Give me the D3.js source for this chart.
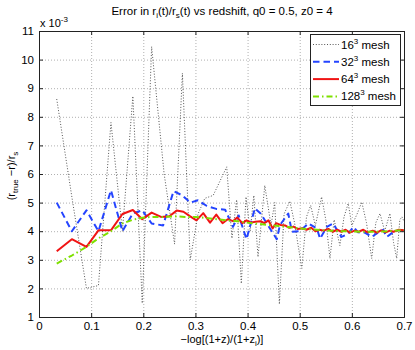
<!DOCTYPE html>
<html lang="en">
<head>
<meta charset="UTF-8">
<script src="https://d3js.org/d3.v7.min.js"></script>
<title>Error in ri/rs vs redshift</title>
<style>
	body { margin: 0; background: #fff; }
	svg { font-family: "Liberation Sans", Arial, sans-serif; }
	.grid line { stroke: #b0b0b0; stroke-dasharray: 1,2; }
</style>
</head>
<body>
<svg width="415" height="350"></svg>
<script>
// ticks
const xTicks = [0, 0.1, 0.2, 0.3, 0.4, 0.5, 0.6, 0.7];
const yTicks = [1, 2, 3, 4, 5, 6, 7, 8, 9, 10, 11];   // units of 1e-3

// 16^3 mesh (dotted)
const x16 = [0.034, 0.063, 0.091, 0.114, 0.138, 0.160, 0.180, 0.198, 0.216, 0.240, 0.260, 0.275, 0.290, 0.305, 0.318, 0.334, 0.347, 0.360, 0.370, 0.379, 0.388, 0.397, 0.405, 0.412, 0.420, 0.433, 0.445, 0.452, 0.461, 0.470, 0.481, 0.490, 0.504, 0.513, 0.521, 0.530, 0.542, 0.550, 0.558, 0.566, 0.577, 0.585, 0.593, 0.600, 0.610, 0.619, 0.628, 0.638, 0.646, 0.654, 0.663, 0.673, 0.680, 0.686, 0.692, 0.696, 0.700];
const y16 = [8.62, 5.20, 2.00, 2.10, 7.80, 4.00, 8.72, 1.48, 10.45, 6.00, 3.55, 9.52, 3.00, 4.60, 5.15, 5.25, 5.75, 6.25, 3.75, 5.10, 2.17, 5.20, 4.00, 5.25, 3.10, 5.60, 4.20, 5.00, 1.45, 4.60, 5.05, 4.30, 2.70, 4.50, 4.90, 4.20, 5.20, 4.40, 3.05, 4.40, 3.50, 4.50, 4.97, 4.20, 4.60, 5.02, 4.30, 3.05, 4.30, 4.62, 4.00, 4.62, 3.60, 3.05, 4.40, 4.50, 4.35];

// 32^3 mesh (dashed)
const x32 = [0.034, 0.063, 0.091, 0.114, 0.138, 0.160, 0.180, 0.198, 0.216, 0.238, 0.258, 0.275, 0.290, 0.305, 0.322, 0.340, 0.357, 0.372, 0.383, 0.398, 0.414, 0.425, 0.437, 0.456, 0.462, 0.478, 0.485, 0.500, 0.517, 0.533, 0.539, 0.552, 0.564, 0.580, 0.592, 0.603, 0.612, 0.625, 0.638, 0.650, 0.660, 0.667, 0.678, 0.689, 0.700];
const y32 = [5.00, 4.00, 4.73, 4.00, 5.43, 4.00, 4.62, 4.73, 4.27, 4.20, 5.40, 5.25, 5.00, 5.08, 4.88, 4.78, 4.75, 4.15, 4.55, 3.72, 4.80, 4.62, 4.27, 3.72, 4.21, 4.62, 3.98, 4.00, 4.27, 4.09, 3.74, 4.15, 4.27, 3.80, 3.90, 4.15, 3.96, 3.95, 3.80, 3.95, 4.05, 3.80, 3.95, 4.03, 4.05];

// 64^3 mesh (solid)
const x64 = [0.034, 0.063, 0.091, 0.114, 0.138, 0.160, 0.180, 0.198, 0.216, 0.234, 0.250, 0.264, 0.277, 0.290, 0.302, 0.315, 0.328, 0.340, 0.352, 0.362, 0.372, 0.380, 0.390, 0.398, 0.406, 0.415, 0.425, 0.432, 0.440, 0.448, 0.455, 0.463, 0.472, 0.480, 0.488, 0.496, 0.505, 0.513, 0.522, 0.530, 0.538, 0.546, 0.555, 0.563, 0.572, 0.580, 0.588, 0.596, 0.605, 0.613, 0.622, 0.630, 0.640, 0.648, 0.656, 0.665, 0.673, 0.680, 0.690, 0.700];
const y64 = [3.30, 3.72, 3.45, 4.03, 4.03, 4.60, 4.74, 4.42, 4.65, 4.50, 4.52, 4.72, 4.68, 4.52, 4.38, 4.63, 4.30, 4.58, 4.28, 4.42, 4.35, 4.48, 4.28, 4.38, 4.30, 4.33, 4.35, 4.28, 4.38, 4.10, 4.28, 4.22, 4.20, 4.12, 4.16, 4.08, 4.10, 4.05, 4.12, 4.00, 4.05, 4.02, 4.08, 3.98, 4.05, 3.98, 4.05, 3.95, 4.02, 3.98, 4.05, 3.96, 4.02, 3.95, 4.03, 3.96, 4.02, 3.98, 4.05, 4.03];

// 128^3 mesh (dash-dot)
const x128 = [0.034, 0.063, 0.091, 0.114, 0.138, 0.160, 0.180, 0.198, 0.216, 0.238, 0.260, 0.280, 0.300, 0.320, 0.340, 0.360, 0.380, 0.400, 0.420, 0.440, 0.460, 0.480, 0.500, 0.520, 0.540, 0.560, 0.580, 0.600, 0.620, 0.640, 0.660, 0.680, 0.700];
const y128 = [2.87, 3.15, 3.45, 3.75, 4.00, 4.27, 4.40, 4.47, 4.50, 4.50, 4.52, 4.50, 4.50, 4.46, 4.42, 4.38, 4.35, 4.30, 4.26, 4.22, 4.18, 4.14, 4.10, 4.07, 4.04, 4.02, 4.00, 3.99, 3.98, 3.98, 3.99, 4.01, 4.04];

const seriesNames = ['16', '32', '64', '128'];

const series = [
	{ name: seriesNames[0], xs: x16, ys: y16, color: '#555', width: 1, dash: '1,1.8' },
	{ name: seriesNames[1], xs: x32, ys: y32, color: '#2444ff', width: 2, dash: '6.5,4' },
	{ name: seriesNames[2], xs: x64, ys: y64, color: '#f01414', width: 2, dash: null },
	{ name: seriesNames[3], xs: x128, ys: y128, color: '#7ee000', width: 2, dash: '6,3,1.5,3' }
];

const mLeft = 39, mRight = 404, mTop = 31, mBottom = 317;

const svg = d3.select('svg');
const x = d3.scaleLinear().domain([0, 0.7]).range([mLeft, mRight]);
const y = d3.scaleLinear().domain([1, 11]).range([mBottom, mTop]);

// grid
svg.append('g').attr('class', 'grid')
	.attr('transform', `translate(0,${mBottom})`)
	.call(d3.axisBottom(x).tickValues(xTicks.slice(1, -1)).tickSize(-(mBottom - mTop)).tickFormat(''))
	.call(g => g.select('.domain').remove());
svg.append('g').attr('class', 'grid')
	.attr('transform', `translate(${mLeft},0)`)
	.call(d3.axisLeft(y).tickValues(yTicks.slice(1, -1)).tickSize(-(mRight - mLeft)).tickFormat(''))
	.call(g => g.select('.domain').remove());

// lines
svg.append('clipPath').attr('id', 'clip')
	.append('rect').attr('x', mLeft).attr('y', mTop).attr('width', mRight - mLeft).attr('height', mBottom - mTop);

const line = d3.line().x(d => x(d[0])).y(d => y(d[1]));
const plot = svg.append('g').attr('clip-path', 'url(#clip)');
series.forEach(s => {
	plot.append('path')
		.datum(s.xs.map((v, i) => [v, s.ys[i]]))
		.attr('d', line)
		.attr('fill', 'none')
		.attr('stroke', s.color)
		.attr('stroke-width', s.width)
		.attr('stroke-linejoin', 'round')
		.attr('stroke-dasharray', s.dash);
});

// axes, ticks pointing inward
const fmt = d => String(d);
const axB = svg.append('g').attr('transform', `translate(0,${mBottom})`)
	.call(d3.axisBottom(x).tickValues(xTicks).tickSize(-4).tickPadding(5).tickFormat(fmt));
const axL = svg.append('g').attr('transform', `translate(${mLeft},0)`)
	.call(d3.axisLeft(y).tickValues(yTicks).tickSize(-4).tickPadding(5).tickFormat(fmt));
const axT = svg.append('g').attr('transform', `translate(0,${mTop})`)
	.call(d3.axisTop(x).tickValues(xTicks).tickSize(-4).tickFormat(''));
const axR = svg.append('g').attr('transform', `translate(${mRight},0)`)
	.call(d3.axisRight(y).tickValues(yTicks).tickSize(-4).tickFormat(''));
[axB, axL, axT, axR].forEach(g => {
	g.selectAll('path, line').attr('stroke', '#222');
	g.selectAll('text').attr('font-size', 11.5).attr('fill', '#000')
		.attr('font-family', '"Liberation Sans", Arial, sans-serif');
});

// exponent label
const ex = svg.append('text').attr('x', 40).attr('y', 27).attr('font-size', 11);
ex.append('tspan').text('x 10');
ex.append('tspan').attr('dy', -5).attr('font-size', 8).text('-3');

// title
const title = svg.append('text').attr('x', 222).attr('y', 15).attr('text-anchor', 'middle').attr('font-size', 11.5);
title.append('tspan').text('Error in r');
title.append('tspan').attr('dy', 3).attr('font-size', 8).text('i');
title.append('tspan').attr('dy', -3).text('(t)/r');
title.append('tspan').attr('dy', 3).attr('font-size', 8).text('s');
title.append('tspan').attr('dy', -3).text('(t) vs redshift, q0 = 0.5, z0 = 4');

// x label
const xl = svg.append('text').attr('x', 222).attr('y', 342.5).attr('text-anchor', 'middle').attr('font-size', 11);
xl.append('tspan').text('\u2212log[(1+z)/(1+z');
xl.append('tspan').attr('dy', 3).attr('font-size', 8).text('i');
xl.append('tspan').attr('dy', -3).text(')]');

// y label
const yl = svg.append('text').attr('transform', 'translate(15,176) rotate(-90)')
	.attr('text-anchor', 'middle').attr('font-size', 11);
yl.append('tspan').text('(r');
yl.append('tspan').attr('dy', 3).attr('font-size', 8).text('true');
yl.append('tspan').attr('dy', -3).text(' \u2212r)/r');
yl.append('tspan').attr('dy', 3).attr('font-size', 8).text('s');

// legend
const lg = svg.append('g');
lg.append('rect').attr('x', 310.5).attr('y', 34.5).attr('width', 90).attr('height', 71)
	.attr('fill', '#fff').attr('stroke', '#222');
series.forEach((s, i) => {
	const ly = 44.5 + i * 17.3;
	lg.append('line').attr('x1', 313).attr('x2', 339).attr('y1', ly).attr('y2', ly)
		.attr('stroke', s.color).attr('stroke-width', s.width).attr('stroke-dasharray', s.dash);
	const t = lg.append('text').attr('x', 341).attr('y', ly + 4).attr('font-size', 11.5);
	t.append('tspan').text(s.name);
	t.append('tspan').attr('dy', -5).attr('font-size', 8).text('3');
	t.append('tspan').attr('dy', 5).text(' mesh');
});
</script>
</body>
</html>
